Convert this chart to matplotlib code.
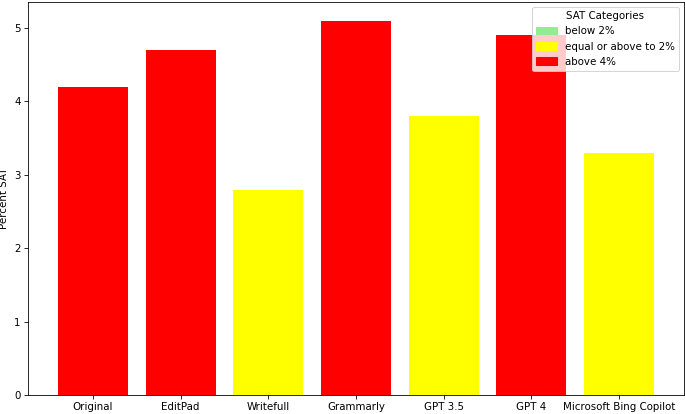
import matplotlib
matplotlib.use("Agg")
import matplotlib.pyplot as plt
from matplotlib.patches import Patch

tools = ["Original", "EditPad", "Writefull", "Grammarly", "GPT 3.5", "GPT 4", "Microsoft Bing Copilot"]
percent_sat = [4.2, 4.7, 2.8, 5.1, 3.8, 4.9, 3.3]

# colour by category
def sat_colour(v):
    if v < 2:
        return "lightgreen"
    elif v <= 4:
        return "yellow"
    return "red"

colours = [sat_colour(v) for v in percent_sat]

dpi = 74
fig = plt.figure(figsize=(685 / dpi, 414 / dpi), dpi=dpi)
ax = fig.add_axes([28 / 685, 19 / 414, 656 / 685, 393 / 414])
ax.bar(tools, percent_sat, color=colours)
ax.set_ylabel("Percent SAT")
ax.yaxis.set_label_coords(-0.029, 0.5)

handles = [Patch(color="lightgreen", label="below 2%"),
           Patch(color="yellow", label="equal or above to 2%"),
           Patch(color="red", label="above 4%")]
ax.legend(handles=handles, title="SAT Categories", loc="upper right")

fig.savefig("out.png", dpi=dpi)
